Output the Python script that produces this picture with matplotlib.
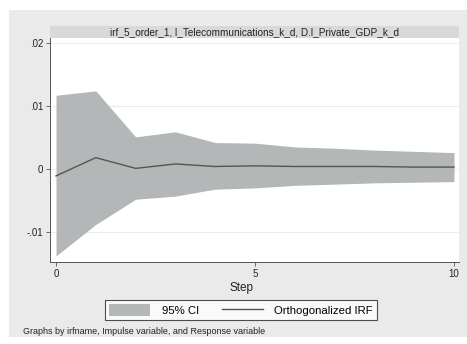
import matplotlib
matplotlib.use("Agg")
import matplotlib.pyplot as plt
from matplotlib.patches import Rectangle, Patch
from matplotlib.lines import Line2D

plt.rcParams["font.family"] = ["Liberation Sans", "DejaVu Sans"]

# impulse response values
steps = [0, 1, 2, 3, 4, 5, 6, 7, 8, 9, 10]
irf = [-0.0011, 0.0018, 0.0001, 0.0008, 0.0004, 0.0005, 0.0004, 0.0004, 0.0004, 0.0003, 0.0003]
ci_upper = [0.0117, 0.0124, 0.0051, 0.0059, 0.0042, 0.0041, 0.0035, 0.0033, 0.0030, 0.0028, 0.0026]
ci_lower = [-0.0138, -0.0088, -0.0048, -0.0043, -0.0032, -0.0030, -0.0026, -0.0024, -0.0022, -0.0021, -0.0020]
yticks = [-0.01, 0.0, 0.01, 0.02]
ytick_labels = ["-.01", "0", ".01", ".02"]
xticks = [0, 5, 10]
panel_title = "irf_5_order_1, l_Telecommunications_k_d, D.l_Private_GDP_k_d"

W, H = 467, 344
fig = plt.figure(figsize=(W / 100, H / 100), dpi=100)
fig.patch.set_facecolor("white")

# Stata-style gray graph region, kept behind the axes
fig.patches.append(
    Rectangle((9 / W, 1 - 337 / H), (W - 9) / W, (337 - 10) / H,
              transform=fig.transFigure, facecolor="#eaeaea", edgecolor="none", zorder=-10)
)

left, right, top, bottom = 50, 459, 38, 262
ax = fig.add_axes([left / W, 1 - bottom / H, (right - left) / W, (bottom - top) / H])
ax.set_facecolor("white")

# title strip above the plot
fig.patches.append(
    Rectangle((left / W, 1 - top / H), (right - left) / W, 12 / H,
              transform=fig.transFigure, facecolor="#d9d9d9", edgecolor="none", zorder=-5)
)
fig.text((left + right) / 2 / W, 1 - 32 / H, panel_title, ha="center", va="center",
         fontsize=7.2, color="#222222")

ax.fill_between(steps, ci_lower, ci_upper, color="#b4b7b7", linewidth=0, zorder=2)
ax.plot(steps, irf, color="#555555", linewidth=1.0, zorder=3)

ax.set_xlim(-0.151, 10.126)
ax.set_ylim(-0.01476, 0.02079)
ax.set_yticks(yticks)
ax.set_yticklabels(ytick_labels)
ax.set_xticks(xticks)
ax.tick_params(axis="both", labelsize=7, colors="#555555", labelcolor="#222222",
               length=3, width=0.6, pad=2)
ax.grid(axis="y", color="#ececec", linewidth=0.8, zorder=1)
ax.set_axisbelow(True)
for side in ("top", "right"):
    ax.spines[side].set_visible(False)
for side in ("left", "bottom"):
    ax.spines[side].set_color("#555555")
    ax.spines[side].set_linewidth(0.7)

fig.text(242 / W, 1 - 288 / H, "Step", ha="center", va="center", fontsize=8.5, color="#222222")

handles = [
    Patch(facecolor="#b4b7b7", edgecolor="none"),
    Line2D([0], [0], color="#555555", linewidth=1.0),
]
leg = fig.legend(handles, ["95% CI", "Orthogonalized IRF"], loc="center", ncol=2,
                 bbox_to_anchor=(241 / W, 1 - 310 / H), frameon=True, fancybox=False,
                 fontsize=8.2, handlelength=3.6, handleheight=1.3, columnspacing=2.0,
                 borderpad=0.35, handletextpad=1.0)
leg.get_frame().set_edgecolor("#222222")
leg.get_frame().set_linewidth(0.8)

fig.text(23 / W, 1 - 331 / H, "Graphs by irfname, Impulse variable, and Response variable",
         ha="left", va="center", fontsize=6.5, color="#222222")

fig.savefig("out.png", dpi=100)
